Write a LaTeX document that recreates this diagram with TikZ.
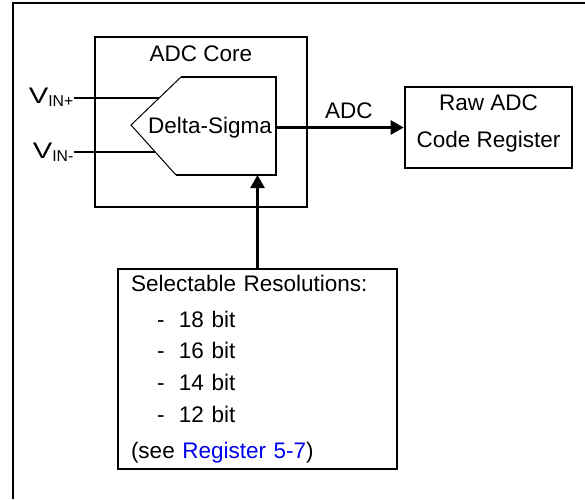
\documentclass[tikz,border=0pt]{standalone}
\usepackage{fontspec}
\setmainfont{Liberation Sans}
\usepackage{xcolor}
\usepackage{tikz}
\usetikzlibrary{arrows.meta, positioning, calc}
\definecolor{linkblue}{HTML}{0000F0}

\begin{document}
\begin{tikzpicture}[
  x=1pt, y=-1pt,
  font=\fontsize{22.5}{31.7}\selectfont,
  blk/.style={rectangle, draw=black, line width=2.6pt, inner sep=0pt},
  wire/.style={line width=2.6pt, line join=miter},
  slant/.style={line width=1pt},
  arr/.style={-{Triangle[length=13pt, width=14pt]}, line width=2.6pt},
  lbl/.style={inner sep=0pt}
]
  \useasboundingbox (0,0) rectangle (585,499);

  % ── Outer frame ─────────────────────────────────────────────────────────────
  \draw[line width=2.6pt] (13,499) -- (13,3) -- (585,3);

  % ── ADC core ────────────────────────────────────────────────────────────────
  \node[blk, minimum width=212pt, minimum height=170pt] (core) at (201,122) {};
  \node[lbl] (corelbl) at (201,54) {ADC Core};

  \coordinate (dsW)  at (131,125);
  \coordinate (dsNW) at (181,77);
  \coordinate (dsNE) at (276,77);
  \coordinate (dsSE) at (276,175);
  \coordinate (dsSW) at (176,175);
  \draw[slant] (dsSW) -- (dsW) -- (dsNW);
  \draw[wire]  (dsNW) -- (dsNE) -- (dsSE) -- (dsSW);
  \node[lbl] (ds) at (210,128) {Delta-Sigma};

  % ── Inputs ──────────────────────────────────────────────────────────────────
  \node[lbl, anchor=base east] (vinp) at (74,103) {\scalebox{1.3}[1]{V}\textsubscript{IN+}};
  \node[lbl, anchor=base east] (vinm) at (74,158) {\scalebox{1.3}[1]{V}\textsubscript{IN-}};
  \coordinate (inp) at (159,98);
  \coordinate (inm) at (155,152);

  % ── Output register ─────────────────────────────────────────────────────────
  \node[blk, minimum width=167pt, minimum height=81pt, align=center,
        text depth=12.5pt, font=\fontsize{22.5}{37}\selectfont] (reg) at (488.5,127.5)
    {Raw ADC\\Code Register};
  \coordinate (dsout) at (276,127.5);

  % ── Resolution select ───────────────────────────────────────────────────────
  \node[blk, minimum width=279pt, minimum height=200pt, inner xsep=13pt,
        text width=253pt, align=left] (sel) at (257.5,369) {%
    Selectable Resolutions:\\[4pt]
    \makebox[48pt][l]{\hspace{26pt}-}18 bit\\
    \makebox[48pt][l]{\hspace{26pt}-}16 bit\\
    \makebox[48pt][l]{\hspace{26pt}-}14 bit\\
    \makebox[48pt][l]{\hspace{26pt}-}12 bit\\[4pt]
    (see \textcolor{linkblue}{Register 5-7})};

  % ── Arrows ──────────────────────────────────────────────────────────────────
  \draw[wire] (vinp.east |- inp) -- (inp);
  \draw[wire] (vinm.east |- inm) -- (inm);
  \draw[arr]  (dsout) -- node[lbl, pos=0.57, above=7pt] (adclbl) {ADC} (reg.west);
  \draw[arr]  (sel.north) -- (sel.north |- dsSW);
\end{tikzpicture}
\end{document}
